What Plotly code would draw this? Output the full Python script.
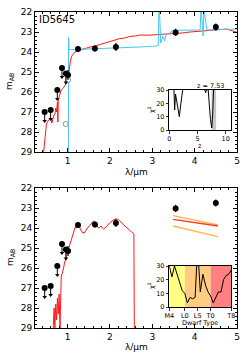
import plotly.graph_objects as go

W, H = 249, 362

# ---------------- data ----------------
# galaxy template (top panel, red)
gal_lam = [0.435, 0.47, 0.50, 0.55, 0.60, 0.63, 0.67, 0.70, 0.72, 0.74, 0.76, 0.77, 0.78, 0.82, 0.85,
           0.90, 0.95, 1.00, 1.02, 1.04, 1.07, 1.10, 1.17, 1.29, 1.40, 1.53, 1.65, 1.76, 1.88, 2.00,
           2.12, 2.23, 2.35, 2.47, 2.60, 2.70, 2.90, 3.18, 3.49, 3.70, 3.89, 4.10, 4.28, 4.50, 4.75,
           4.90, 5.00]
gal_mag = [29.0, 28.3, 27.6, 27.4, 27.3, 27.55, 27.2, 27.1, 26.8, 27.0, 26.5, 27.5, 26.4, 26.1, 25.9,
           25.8, 25.65, 25.45, 25.2, 24.8, 24.4, 24.2, 24.0, 23.9, 23.82, 23.75, 23.7, 23.63, 23.55, 23.45,
           23.4, 23.33, 23.3, 23.22, 23.2, 23.15, 23.16, 23.13, 23.08, 23.05, 23.0, 22.97, 22.92, 22.9, 22.85,
           22.95, 23.02]

# low-z solution (top panel, blue); None = gap where the curve leaves the plot
blue_lam = [1.020, 1.022, 1.030, 1.035, 1.10, 1.50, 2.00, 2.50, 2.70, 3.00, 3.14, 3.155, None, 3.17,
            3.20, 3.25, 3.29, 3.33, 3.41, 3.49, 3.73, 4.00, 4.13, 4.145, None, 4.16, 4.18, 4.20, 4.215,
            None, 4.23, 4.29, 4.60, 5.00]
blue_mag = [29.0, 23.25, 23.90, 23.88, 23.88, 23.85, 23.82, 23.80, 23.75, 23.72, 23.68, 22.0, None, 22.0,
            23.55, 23.20, 23.45, 23.10, 23.05, 22.92, 22.90, 22.90, 22.90, 22.0, None, 22.0, 23.05, 23.20, 22.0,
            None, 22.0, 22.90, 22.88, 22.85]

# model photometry of the blue solution (grey open circles)
mod_lam = [0.955, 1.015]
mod_mag = [27.6, 25.4]

# observed photometry
lim_lam = [0.458, 0.60, 0.757, 0.867, 0.96]
lim_mag = [27.0, 26.9, 25.9, 24.8, 25.07]
det_lam = [1.01, 1.245, 1.645, 2.14, 3.55, 4.50]
det_mag = [25.15, 23.85, 23.82, 23.75, 23.02, 22.75]
det_err = [0.25, 0.12, 0.15, 0.20, 0.18, 0.18]
lim_len = 0.5

# chi2(z) inset (None = off-scale gap)
chi_z = [0.83, 0.95, 1.10, 1.30, 1.50, 1.78, 2.00, 2.37, None, 6.30, 6.45, 6.60, None,
         6.90, 7.10, 7.30, 7.53, 7.70, 7.85]
chi_v = [30, 15, 27, 22, 15, 10, 18, 30, None, 30, 28, 30, None,
         30, 18, 8, 1.5, 12, 30]
z_best = 7.53
z_band = [7.5, 8.3]

# brown dwarf template (bottom panel, red)
bd_lam = [0.66, 0.68, 0.70, 0.72, 0.74, 0.76, 0.78, 0.80, 0.82, 0.83, 0.85, 0.87, 0.89, 0.91, 0.93,
          0.95, 0.97, 1.00, 1.03, 1.06, 1.09, 1.12, 1.15, 1.18, 1.20, 1.22, 1.25, 1.27, 1.30, 1.33,
          1.36, 1.39, 1.43, 1.47, 1.51, 1.55, 1.58, 1.61, 1.64, 1.67, 1.70, 1.73, 1.76, 1.79, 1.82,
          1.85, 1.88, 1.91, 1.95, 1.99, 2.04, 2.08, 2.13, 2.18, 2.22, 2.25, 2.28, 2.33, 2.38, 2.42,
          2.45, 2.49, 2.53, 2.565, 2.575]
bd_mag = [29.0, 28.0, 29.0, 27.8, 28.6, 27.5, 28.3, 27.3, 29.0, 27.0, 26.4, 26.3, 26.0, 25.95, 25.7,
          25.6, 25.4, 25.2, 25.0, 24.7, 24.6, 24.3, 24.1, 23.95, 24.0, 23.85, 23.9, 23.85, 24.05, 24.15,
          24.25, 24.25, 24.1, 24.0, 23.9, 23.8, 23.72, 23.65, 23.7, 23.8, 23.9, 24.0, 23.95, 23.9, 24.0,
          24.05, 24.0, 23.95, 23.85, 23.75, 23.65, 23.6, 23.55, 23.55, 23.62, 23.7, 23.75, 23.85, 23.95, 24.02,
          24.1, 24.18, 24.25, 24.3, 29.0]

# IRAC model lines (bottom panel)
irac_lam = [3.49, 4.55]
irac_up = [23.38, 23.85]
irac_mid = [23.57, 23.90]
irac_lo = [23.90, 24.43]

# chi2(dwarf type) inset (None = off-scale gap)
bd_type = [4, 5, 6, 7, 8, 9, 10, 11, 12, 13, 14, 14.6, None, 15.4, 16, 17, 18, 19, 20, 21, 22, 23, 24,
           25, 26, 27, 28]
bd_chi = [30, 22, 30, 24, 17, 12, 10, 3, 7, 6, 7, 30, None, 30, 11, 24, 16, 11, 8, 3, 7, 11, 11,
          20, 23, 24, 27]
type_ticks = [4, 10, 15, 20, 28]
type_text = ["M4", "L0", "L5", "T0", "T8"]
type_bands = [(4, 10, "#ffff80"), (10, 20, "#ffcc80"), (20, 28, "#ff8080")]

# ---------------- figure ----------------
FONT = "DejaVu Sans"
fig = go.Figure()


def px_x(p):
    return p / W


def px_y(p):
    return 1 - p / H


def add_points(xa, ya):
    # upper limits
    fig.add_trace(go.Scatter(
        x=lim_lam, y=lim_mag, mode="markers", xaxis=xa, yaxis=ya,
        marker=dict(color="black", size=6),
        error_y=dict(type="data", symmetric=False, array=[lim_len] * len(lim_lam),
                     arrayminus=[0] * len(lim_lam), width=0, thickness=1, color="black"),
        showlegend=False))
    fig.add_trace(go.Scatter(
        x=lim_lam, y=[m + lim_len - 0.05 for m in lim_mag], mode="markers", xaxis=xa, yaxis=ya,
        marker=dict(color="black", size=4, symbol="triangle-down"), showlegend=False))
    # detections
    fig.add_trace(go.Scatter(
        x=det_lam, y=det_mag, mode="markers", xaxis=xa, yaxis=ya,
        marker=dict(color="black", size=6),
        error_y=dict(type="data", array=det_err, width=0, thickness=1.2, color="black"),
        showlegend=False))


# top main
fig.add_trace(go.Scatter(x=gal_lam, y=gal_mag, mode="lines", line=dict(color="#ff1a1a", width=1),
                         xaxis="x", yaxis="y", showlegend=False))
fig.add_trace(go.Scatter(x=blue_lam, y=blue_mag, mode="lines", line=dict(color="#45c8f5", width=1),
                         connectgaps=False, xaxis="x", yaxis="y", showlegend=False))
fig.add_trace(go.Scatter(x=mod_lam, y=mod_mag, mode="markers", xaxis="x", yaxis="y",
                         marker=dict(color="white", size=5, line=dict(color="#909090", width=1)),
                         showlegend=False))
add_points("x", "y")

# top inset
fig.add_trace(go.Scatter(x=chi_z, y=chi_v, mode="lines", line=dict(color="black", width=1),
                         connectgaps=False, xaxis="x2", yaxis="y2", showlegend=False))

# bottom main
fig.add_trace(go.Scatter(x=bd_lam, y=bd_mag, mode="lines", line=dict(color="#ff1a1a", width=1),
                         xaxis="x3", yaxis="y3", showlegend=False))
fig.add_trace(go.Scatter(x=irac_lam, y=irac_up, mode="lines", line=dict(color="#ffb54d", width=1.3),
                         xaxis="x3", yaxis="y3", showlegend=False))
fig.add_trace(go.Scatter(x=irac_lam, y=irac_lo, mode="lines", line=dict(color="#ffb54d", width=1.3),
                         xaxis="x3", yaxis="y3", showlegend=False))
fig.add_trace(go.Scatter(x=irac_lam, y=irac_mid, mode="lines", line=dict(color="#ff3a1a", width=1.3),
                         xaxis="x3", yaxis="y3", showlegend=False))
add_points("x3", "y3")

# bottom inset
fig.add_trace(go.Scatter(x=bd_type, y=bd_chi, mode="lines", line=dict(color="black", width=1),
                         connectgaps=False, xaxis="x4", yaxis="y4", showlegend=False))

# domains
main_x = [px_x(35), px_x(237)]
top_y = [px_y(152), px_y(12)]
bot_y = [px_y(328), px_y(188)]
ins_x = [px_x(169.3), px_x(231.3)]
ins_top_y = [px_y(130), px_y(90)]
ins_bot_y = [px_y(307), px_y(266)]

main_common = dict(showline=True, linecolor="black", linewidth=1, mirror="allticks",
                   ticks="inside", ticklen=4, tickwidth=1, tickcolor="black",
                   tickfont=dict(family=FONT, size=9, color="black"),
                   showgrid=False, zeroline=False, automargin=False)
ins_common = dict(showline=True, linecolor="black", linewidth=1, mirror=True,
                  ticks="outside", ticklen=2.5, tickwidth=0.8, tickcolor="black",
                  tickfont=dict(family=FONT, size=6.5, color="black"),
                  showgrid=False, zeroline=False, automargin=False)

mx = dict(range=[0.23, 5], tick0=0, dtick=1,
          minor=dict(ticks="inside", ticklen=2, dtick=0.2, tickcolor="black", showgrid=False))
my = dict(range=[29, 22], tick0=0, dtick=1,
          minor=dict(ticks="inside", ticklen=2, dtick=0.2, tickcolor="black", showgrid=False))

fig.update_layout(
    template="none",
    width=W, height=H, margin=dict(l=0, r=0, t=0, b=0, pad=0), autosize=False,
    paper_bgcolor="white", plot_bgcolor="white", hovermode=False,
    font=dict(family=FONT, color="black"),
    xaxis=dict(domain=main_x, anchor="y", **mx, **main_common),
    yaxis=dict(domain=top_y, anchor="x", **my, **main_common),
    xaxis2=dict(domain=ins_x, anchor="y2", range=[0, 11], tickvals=[0, 5, 10], **ins_common),
    yaxis2=dict(domain=ins_top_y, anchor="x2", range=[0, 30], tickvals=[0, 10, 20, 30], **ins_common),
    xaxis3=dict(domain=main_x, anchor="y3", **mx, **main_common),
    yaxis3=dict(domain=bot_y, anchor="x3", **my, **main_common),
    xaxis4=dict(domain=ins_x, anchor="y4", range=[4, 28], tickvals=type_ticks, ticktext=type_text,
                **ins_common),
    yaxis4=dict(domain=ins_bot_y, anchor="x4", range=[0, 30], tickvals=[0, 10, 20, 30], **ins_common),
)

shapes = [dict(type="rect", xref="x2", yref="y2", x0=z_band[0], x1=z_band[1], y0=0, y1=30,
               fillcolor="#c8c8c8", line=dict(width=0), layer="below")]
for a, b, c in type_bands:
    shapes.append(dict(type="rect", xref="x4", yref="y4", x0=a, x1=b, y0=0, y1=30,
                       fillcolor=c, line=dict(width=0), layer="below"))
fig.update_layout(shapes=shapes)

ann = []


def note(text, x, y, size, xanchor="center", yanchor="middle", angle=0):
    ann.append(dict(text=text, x=px_x(x), y=px_y(y), xref="paper", yref="paper", showarrow=False,
                    xanchor=xanchor, yanchor=yanchor, textangle=angle,
                    font=dict(family=FONT, size=size, color="black")))


note("ID5645", 37, 20, 10, xanchor="left")
note("m<sub>AB</sub>", 10, 82, 9, angle=-90)
note("m<sub>AB</sub>", 10, 258, 9, angle=-90)
note("λ/µm", 136, 172, 9)
note("λ/µm", 136, 347, 9)
note("z = %.2f" % z_best, 226, 86, 6.5, xanchor="right")
note("χ<sup>2</sup>", 151, 110, 6.5, angle=-90)
note("χ<sup>2</sup>", 151, 286, 6.5, angle=-90)
note("z", 200, 146, 6.5)
note("Dwarf Type", 200, 322.5, 6.5)
fig.update_layout(annotations=ann)

fig.write_html("out.html", config={"displayModeBar": False, "staticPlot": True},
               post_script=["document.body.style.margin='0';document.body.style.overflow='hidden';"])
